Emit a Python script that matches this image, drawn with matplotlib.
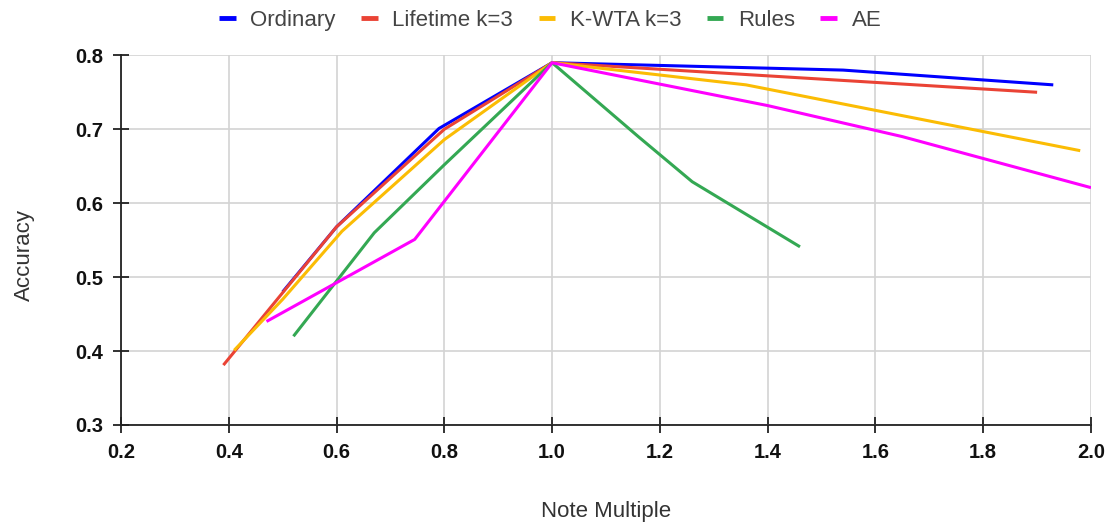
import matplotlib
matplotlib.use("Agg")
import matplotlib.pyplot as plt

plt.rcParams['font.family'] = ['Liberation Sans', 'DejaVu Sans']

# Data
ordinary_x = [0.50, 0.60, 0.79, 1.00, 1.54, 1.93]
ordinary_y = [0.48, 0.568, 0.701, 0.79, 0.780, 0.760]

lifetime_x = [0.39, 0.60, 0.80, 1.00, 1.90]
lifetime_y = [0.381, 0.568, 0.700, 0.79, 0.750]

kwta_x = [0.41, 0.50, 0.61, 0.80, 1.00, 1.36, 1.98]
kwta_y = [0.401, 0.47, 0.562, 0.686, 0.79, 0.760, 0.671]

rules_x = [0.52, 0.67, 0.80, 1.00, 1.16, 1.26, 1.46]
rules_y = [0.42, 0.56, 0.652, 0.79, 0.690, 0.629, 0.541]

ae_x = [0.47, 0.745, 1.00, 1.40, 1.65, 2.00]
ae_y = [0.44, 0.551, 0.79, 0.732, 0.690, 0.621]

series = [
    ("Ordinary", ordinary_x, ordinary_y, "#0000ff"),
    ("Lifetime k=3", lifetime_x, lifetime_y, "#ea4335"),
    ("K-WTA k=3", kwta_x, kwta_y, "#fbbc04"),
    ("Rules", rules_x, rules_y, "#34a853"),
    ("AE", ae_x, ae_y, "#ff00ff"),
]

x_ticks = [0.2, 0.4, 0.6, 0.8, 1.0, 1.2, 1.4, 1.6, 1.8, 2.0]
y_ticks = [0.3, 0.4, 0.5, 0.6, 0.7, 0.8]

W, H = 1107, 523
fig = plt.figure(figsize=(W / 100, H / 100), dpi=100)
ax = fig.add_axes([121 / W, (H - 425) / H, (1091 - 121) / W, (425 - 55.3) / H])

for name, xs, ys, col in series:
    ax.plot(xs, ys, color=col, lw=2.2, label=name, solid_capstyle='butt')

ax.set_xlim(0.2, 2.0)
ax.set_ylim(0.3, 0.8)
ax.set_xticks(x_ticks)
ax.set_yticks(y_ticks)
ax.set_xticklabels([f"{v:.1f}" for v in x_ticks])
ax.set_yticklabels([f"{v:.1f}" for v in y_ticks])

ax.grid(True, color="#d3d3d3", lw=1.2)
ax.set_axisbelow(True)
for s in ("top", "right"):
    ax.spines[s].set_visible(False)
for s in ("left", "bottom"):
    ax.spines[s].set_color("#222222")
    ax.spines[s].set_linewidth(1.3)
    ax.spines[s].set_zorder(3)

ax.tick_params(axis='both', direction='inout', length=12, width=1.3, color="#222222",
               labelsize=14.5, labelcolor="#111111", pad=7)
for lab in ax.get_xticklabels() + ax.get_yticklabels():
    lab.set_fontweight('bold')

ax.set_xlabel("Note Multiple", fontsize=16, color="#333333")
ax.set_ylabel("Accuracy", fontsize=16, color="#333333")
ax.xaxis.set_label_coords(0.5, -0.205)
ax.yaxis.set_label_coords(-0.0887, 0.4585)

leg = fig.legend(loc='upper center', bbox_to_anchor=(0.497, 1 - 1 / H), ncol=5,
                 frameon=False, fontsize=16, handlelength=0.75, handletextpad=0.65,
                 columnspacing=1.15, borderaxespad=0)
for t in leg.get_texts():
    t.set_color("#444444")
for h in leg.get_lines():
    h.set_linewidth(3.5)

fig.savefig("out.png", dpi=100)
